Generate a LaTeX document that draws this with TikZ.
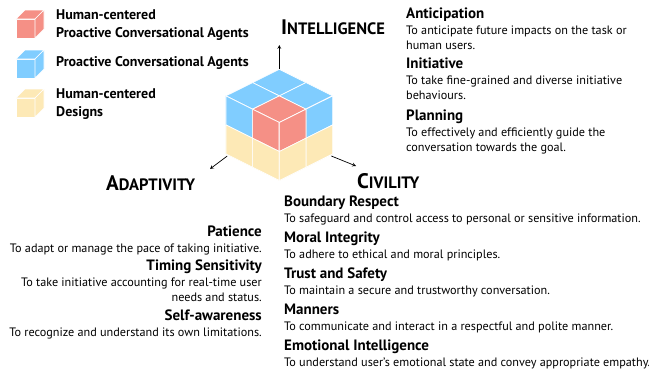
\documentclass[tikz,border=0pt]{standalone}
\usepackage{fontspec}
\setmainfont{PT Sans}
\usetikzlibrary{positioning}
\definecolor{hpcared}{RGB}{245,144,134}
\definecolor{pcablue}{RGB}{128,205,255}
\definecolor{hcdyellow}{RGB}{253,233,182}
\tikzset{
  cell/.style={draw=white, line width=0.7pt, line join=round},
  legendtext/.style={font=\fontsize{14}{18}\selectfont\bfseries, align=left, inner sep=0pt},
  itemtext/.style={font=\fontsize{12.2}{15}\selectfont, inner sep=0pt},
  dimtitle/.style={font=\bfseries, inner sep=0pt},
  dimarrow/.style={->, >=stealth, line width=0.7pt}
}
\newcommand{\dimname}[2]{{\fontsize{21}{21}\selectfont #1}{\fontsize{16.5}{16.5}\selectfont #2}}
\newcommand{\itemhead}[1]{{\fontsize{15}{15}\selectfont\bfseries #1}}
\newcommand{\topcell}[3]{
  \filldraw[cell, fill=#3] (#1,#2,0) -- ++(1,0,0) -- ++(0,1,0) -- ++(-1,0,0) -- cycle;
}
\newcommand{\leftcell}[3]{
  \filldraw[cell, fill=#3] (#1,2,#2) -- ++(1,0,0) -- ++(0,0,-1) -- ++(-1,0,0) -- cycle;
}
\newcommand{\rightcell}[3]{
  \filldraw[cell, fill=#3] (2,#1,#2) -- ++(0,1,0) -- ++(0,0,-1) -- ++(0,-1,0) -- cycle;
}
\newcommand{\legendcube}[3]{
  \filldraw[cell, fill=#3] (#1,#2) rectangle ++(19,19);
  \filldraw[cell, fill=#3] (#1,#2) -- ++(9,-9) -- ++(19,0) -- ++(-9,9) -- cycle;
  \filldraw[cell, fill=#3] (#1+19,#2) -- ++(9,-9) -- ++(0,19) -- ++(-9,9) -- cycle;
}

\begin{document}
\begin{tikzpicture}[x=1pt, y=-1pt]
  \useasboundingbox (0,0) rectangle (649,375);

  \legendcube{16}{19}{hpcared}
  \legendcube{16}{59}{pcablue}
  \legendcube{16}{98}{hcdyellow}
  \node[legendtext, anchor=west] (hpcalabel) at (56,25) {Human-centered\\Proactive Conversational Agents};
  \node[legendtext, anchor=west] (pcalabel) at (56,63) {Proactive Conversational Agents};
  \node[legendtext, anchor=west] (hcdlabel) at (56,104) {Human-centered\\Designs};

  \begin{scope}[shift={(279.3,69.3)}, x={(26.7pt,-13.3pt)}, y={(-26.7pt,-13.3pt)}, z={(0pt,29pt)}]
    \foreach \i/\j/\c in {0/0/pcablue, 1/0/pcablue, 0/1/pcablue, 1/1/hpcared}
      \topcell{\i}{\j}{\c}
    \foreach \i/\z/\c in {0/0/pcablue, 1/0/hpcared, 0/-1/hcdyellow, 1/-1/hcdyellow}
      \leftcell{\i}{\z}{\c}
    \foreach \j/\z/\c in {0/0/pcablue, 1/0/hpcared, 0/-1/hcdyellow, 1/-1/hcdyellow}
      \rightcell{\j}{\z}{\c}
    \coordinate (cubetop) at (0,0,0);
    \coordinate (cubeleft) at (0.05,2,-2.05);
    \coordinate (cuberight) at (2,0.05,-2.05);
  \end{scope}

  \coordinate (intelend) at (279.3,45);
  \coordinate (adaptend) at (210,169);
  \coordinate (civend) at (356,166);
  \draw[dimarrow] (cubetop) -- (intelend);
  \draw[dimarrow] (cubeleft) -- (adaptend);
  \draw[dimarrow] (cuberight) -- (civend);

  \node[dimtitle, anchor=base west] (intelligence) at (281,34.5) {\dimname{I}{NTELLIGENCE}};
  \node[dimtitle, anchor=base west] (adaptivity) at (106,190) {\dimname{A}{DAPTIVITY}};
  \node[dimtitle, anchor=base west] (civility) at (357,188) {\dimname{C}{IVILITY}};

  \node[itemtext, align=left, anchor=north west] (anticipation) at (406,8)
    {\itemhead{Anticipation}\\[1pt]To anticipate future impacts on the task or\\human users.};
  \node[itemtext, align=left, anchor=north west] (initiative) at (406,58)
    {\itemhead{Initiative}\\[1pt]To take fine-grained and diverse initiative\\behaviours.};
  \node[itemtext, align=left, anchor=north west] (planning) at (406,110)
    {\itemhead{Planning}\\[1pt]To effectively and efficiently guide the\\conversation towards the goal.};

  \node[itemtext, align=right, anchor=north east] (patience) at (262,226)
    {\itemhead{Patience}\\[1pt]To adapt or manage the pace of taking initiative.};
  \node[itemtext, align=right, anchor=north east] (timing) at (262,260)
    {\itemhead{Timing Sensitivity}\\[1pt]To take initiative accounting for real-time user\\needs and status.};
  \node[itemtext, align=right, anchor=north east] (selfaware) at (262,310)
    {\itemhead{Self-awareness}\\[1pt]To recognize and understand its own limitations.};

  \node[itemtext, align=left, anchor=north west] (boundary) at (284,196)
    {\itemhead{Boundary Respect}\\[1pt]To safeguard and control access to personal or sensitive information.};
  \node[itemtext, align=left, anchor=north west] (moral) at (284,232)
    {\itemhead{Moral Integrity}\\[1pt]To adhere to ethical and moral principles.};
  \node[itemtext, align=left, anchor=north west] (trust) at (284,268)
    {\itemhead{Trust and Safety}\\[1pt]To maintain a secure and trustworthy conversation.};
  \node[itemtext, align=left, anchor=north west] (manners) at (284,304)
    {\itemhead{Manners}\\[1pt]To communicate and interact in a respectful and polite manner.};
  \node[itemtext, align=left, anchor=north west] (emotional) at (284,340)
    {\itemhead{Emotional Intelligence}\\[1pt]To understand user's emotional state and convey appropriate empathy.};
\end{tikzpicture}
\end{document}
